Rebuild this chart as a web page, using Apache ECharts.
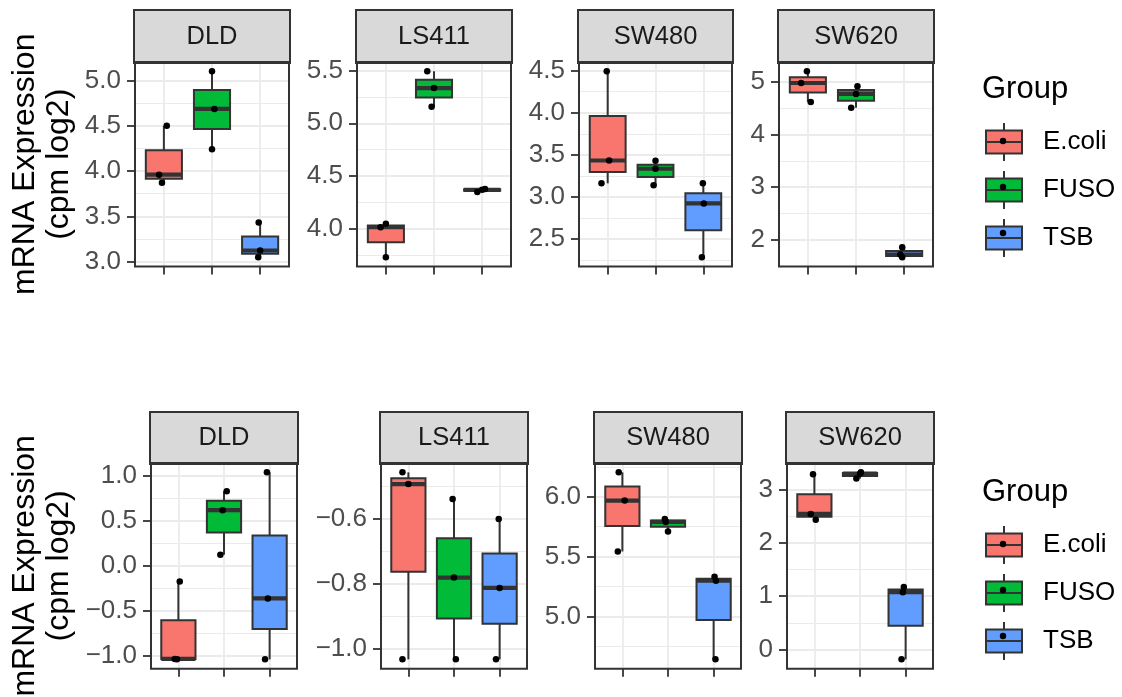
<!DOCTYPE html>
<html><head><meta charset="utf-8">
<script src="https://cdn.jsdelivr.net/npm/echarts@6/dist/echarts.min.js"></script>
<style>html,body{margin:0;padding:0;background:#fff}#c{width:1122px;height:697px}</style>
</head><body><div id="c"></div><script>
// ---------------- data ----------------
const groups = ['E.coli', 'FUSO', 'TSB'];
const panelNames = ['DLD', 'LS411', 'SW480', 'SW620'];
const yTitle = 'mRNA Expression\n(cpm log2)';
const legendTitle = 'Group';

// Replicate values per group, order [E.coli, FUSO, TSB] — top row
const topDLD   = [[4.50, 3.96, 3.87], [5.10, 4.685, 4.24], [3.432, 3.124, 3.05]];
const topLS411 = [[4.016, 4.047, 3.731], [5.493, 5.334, 5.156], [4.35, 4.37, 4.378]];
const topSW480 = [[4.492, 3.433, 3.162], [3.43, 3.335, 3.14], [3.162, 2.924, 2.285]];
const topSW620 = [[5.202, 4.98, 4.62], [4.918, 4.773, 4.508], [1.86, 1.72, 1.67]];
// bottom row
const botDLD   = [[-0.174, -1.03, -1.035], [0.826, 0.616, 0.122], [1.035, -0.361, -1.035]];
const botLS411 = [[-0.456, -0.492, -1.032], [-0.538, -0.78, -1.032], [-0.60, -0.812, -1.032]];
const botSW480 = [[6.205, 5.969, 5.543], [5.815, 5.79, 5.71], [5.332, 5.298, 4.64]];
const botSW620 = [[3.287, 2.544, 2.4375], [3.325, 3.30, 3.21], [1.175, 1.075, -0.185]];

// horizontal jitter of each replicate (category units), same order as values
const topDLDJit   = [[0.06, -0.10, -0.04], [0, 0.05, 0], [-0.03, 0, -0.04]];
const topLS411Jit = [[-0.11, 0, 0], [-0.14, 0, -0.05], [-0.10, 0, 0.06]];
const topSW480Jit = [[-0.02, 0.03, -0.13], [0, 0, -0.04], [-0.01, 0.01, -0.03]];
const topSW620Jit = [[-0.02, -0.14, 0.06], [0.03, 0, -0.10], [-0.04, -0.08, -0.04]];
const botDLDJit   = [[0.03, -0.08, -0.03], [0.06, -0.03, -0.08], [-0.06, -0.04, -0.10]];
const botLS411Jit = [[-0.13, 0, -0.13], [-0.03, 0, 0.04], [-0.02, 0, -0.08]];
const botSW480Jit = [[-0.08, 0.05, -0.10], [-0.07, -0.05, 0], [0.02, 0.05, 0.04]];
const botSW620Jit = [[-0.03, -0.08, 0.03], [0.02, 0, -0.08], [-0.04, -0.06, -0.09]];

// y tick labels per panel
const topDLDTicks   = [3.0, 3.5, 4.0, 4.5, 5.0];
const topLS411Ticks = [4.0, 4.5, 5.0, 5.5];
const topSW480Ticks = [2.5, 3.0, 3.5, 4.0, 4.5];
const topSW620Ticks = [2, 3, 4, 5];
const botDLDTicks   = [-1.0, -0.5, 0.0, 0.5, 1.0];
const botLS411Ticks = [-1.0, -0.8, -0.6];
const botSW480Ticks = [5.0, 5.5, 6.0];
const botSW620Ticks = [0, 1, 2, 3];

// ---------------- style / layout ----------------
const colors = ['#F8766D', '#00BA38', '#619CFF'];
const FONT = '"Liberation Sans", Arial, Helvetica, sans-serif';
const DARK = '#333333';
const rows = [
  { top: 62, height: 204.5, stripH: 51, lefts: [135, 357, 579, 779], widths: [154, 154, 153, 154],
    values: [topDLD, topLS411, topSW480, topSW620], jit: [topDLDJit, topLS411Jit, topSW480Jit, topSW620Jit],
    ticks: [topDLDTicks, topLS411Ticks, topSW480Ticks, topSW620Ticks], nameGap: 59,
    titleTop: 74, legendTop: 122 },
  { top: 463, height: 205.7, stripH: 50, lefts: [151, 381, 595, 787], widths: [146, 146, 146, 146],
    values: [botDLD, botLS411, botSW480, botSW620], jit: [botDLDJit, botLS411Jit, botSW480Jit, botSW620Jit],
    ticks: [botDLDTicks, botLS411Ticks, botSW480Ticks, botSW620Ticks], nameGap: 75,
    titleTop: 477, legendTop: 525 }
];

function q7(s, p) { const h = (s.length - 1) * p; const lo = Math.floor(h), hi = Math.ceil(h); return s[lo] + (h - lo) * (s[hi] - s[lo]); }
function boxStats(vals) {
  const s = vals.slice().sort((a, b) => a - b);
  const q1 = q7(s, 0.25), med = q7(s, 0.5), q3 = q7(s, 0.75), iqr = q3 - q1;
  const low = Math.min(...s.filter(v => v >= q1 - 1.5 * iqr));
  const high = Math.max(...s.filter(v => v <= q3 + 1.5 * iqr));
  return [low, q1, med, q3, high];
}

function renderBox(params, api) {
  const x = api.value(0), low = api.value(1), q1 = api.value(2), med = api.value(3), q3 = api.value(4), high = api.value(5);
  const hw = 0.375;
  const color = api.visual('color');
  const a = api.coord([x - hw, q3]), b = api.coord([x + hw, q1]);
  const c = api.coord([x, 0])[0];
  const yLow = api.coord([x, low])[1], yHigh = api.coord([x, high])[1], yMed = api.coord([x, med])[1];
  const ls = { stroke: DARK, lineWidth: 2 };
  return { type: 'group', children: [
    { type: 'line', shape: { x1: c, y1: a[1], x2: c, y2: yHigh }, style: ls },
    { type: 'line', shape: { x1: c, y1: b[1], x2: c, y2: yLow }, style: ls },
    { type: 'rect', shape: { x: a[0], y: a[1], width: b[0] - a[0], height: b[1] - a[1] }, style: { fill: color, stroke: DARK, lineWidth: 2 } },
    { type: 'line', shape: { x1: a[0], y1: yMed, x2: b[0], y2: yMed }, style: { stroke: DARK, lineWidth: 4.2 } }
  ]};
}

function fmtTick(step) {
  const d = step < 1 ? 1 : 0;
  return v => Number(v).toFixed(d).replace('-', '\u2212');
}

const grid = [], xAxis = [], yAxis = [], series = [], title = [], legend = [];
const boxIcon = 'path://M0,7.5L36,7.5L36,30.5L0,30.5Z M18,0L18,7.5 M18,30.5L18,38 M0,19L36,19';

rows.forEach((row, r) => {
  panelNames.forEach((pname, p) => {
    const gi = grid.length;
    grid.push({ left: row.lefts[p], top: row.top, width: row.widths[p], height: row.height,
      show: true, z: 10, backgroundColor: 'transparent', borderColor: DARK, borderWidth: 2,
      containLabel: false, outerBoundsMode: 'none' });
    const xi = xAxis.length;
    xAxis.push({ gridIndex: gi, type: 'value', min: -0.6, max: 2.6, minInterval: 1, maxInterval: 1,
      position: 'bottom',
      axisLine: { show: false, onZero: false },
      axisTick: { show: true, length: 8, customValues: [0, 1, 2], lineStyle: { color: DARK, width: 1.8 } },
      axisLabel: { show: false },
      splitLine: { show: true, lineStyle: { color: '#EBEBEB', width: 1.8 } } });
    xAxis.push({ gridIndex: gi, type: 'category', position: 'top', data: [pname],
      axisLine: { show: false, onZero: false }, axisTick: { show: false }, splitLine: { show: false },
      axisLabel: { show: true, interval: 0, margin: 0, fontSize: 25.5, color: '#1A1A1A', fontFamily: FONT,
        backgroundColor: '#D9D9D9', borderColor: DARK, borderWidth: 2, width: row.widths[p],
        lineHeight: row.stripH, align: 'center', verticalAlign: 'bottom', padding: 0 } });
    const ticks = row.ticks[p];
    const step = +(ticks[1] - ticks[0]).toFixed(6);
    const yi = yAxis.length;
    yAxis.push({ gridIndex: gi, type: 'value', position: 'left',
      min: e => e.min - 0.05 * (e.max - e.min), max: e => e.max + 0.05 * (e.max - e.min),
      minInterval: step, maxInterval: step,
      axisLine: { show: false, onZero: false },
      axisTick: { show: true, length: 8, customValues: ticks, lineStyle: { color: DARK, width: 1.8 } },
      axisLabel: { show: true, customValues: ticks, margin: 14, fontSize: 26, color: '#4D4D4D', fontFamily: FONT,
        formatter: fmtTick(step) },
      splitLine: { show: true, lineStyle: { color: '#EBEBEB', width: 1.8 } },
      minorTick: { show: false, splitNumber: 2 },
      minorSplitLine: { show: true, lineStyle: { color: '#EBEBEB', width: 1 } },
      name: p === 0 ? yTitle : '', nameLocation: 'middle', nameRotate: 90, nameGap: row.nameGap,
      nameMoveOverlap: false,
      nameTextStyle: { fontSize: 32, lineHeight: 34, color: '#000', fontFamily: FONT, align: 'center' } });
    const vals = row.values[p], jit = row.jit[p];
    groups.forEach((g, k) => {
      series.push({ type: 'custom', name: g, xAxisIndex: xi, yAxisIndex: yi, silent: true, z: 2,
        itemStyle: { color: colors[k] }, renderItem: renderBox,
        encode: { x: 0, y: [1, 2, 3, 4, 5] }, data: [[k].concat(boxStats(vals[k]))] });
    });
    series.push({ type: 'scatter', name: 'points', xAxisIndex: xi, yAxisIndex: yi, silent: true, z: 3,
      symbolSize: 6.5, itemStyle: { color: '#000', opacity: 1 },
      data: vals.flatMap((arr, k) => arr.map((v, j) => [k + jit[k][j], v])) });
  });

  title.push({ text: legendTitle, left: 982, top: row.titleTop, padding: 0,
    textStyle: { fontSize: 31, fontWeight: 'normal', color: '#000', fontFamily: FONT, lineHeight: 31 } });
  legend.push({ orient: 'vertical', left: 985, top: row.legendTop, padding: 0, itemGap: 8,
    itemWidth: 36, itemHeight: 38, selectedMode: false,
    formatter: n => '{sp|}' + n,
    textStyle: { fontSize: 26, color: '#000', fontFamily: FONT, lineHeight: 38,
      rich: { sp: { width: 16, fontSize: 26, lineHeight: 38 } } },
    data: groups.map((g, k) => ({ name: g, icon: boxIcon,
      itemStyle: { color: colors[k], borderColor: DARK, borderWidth: 2 } })) });
  legend.push({ orient: 'vertical', left: 999.8, top: row.legendTop, padding: 0, itemGap: 8,
    itemWidth: 6.4, itemHeight: 6.4, selectedMode: false,
    textStyle: { fontSize: 26, color: 'rgba(0,0,0,0)', fontFamily: FONT, lineHeight: 38 },
    data: groups.map(g => ({ name: g, icon: 'circle', itemStyle: { color: '#000', borderWidth: 0, opacity: 1 } })) });
});

const chart = echarts.init(document.getElementById('c'), null, { renderer: 'canvas' });
chart.setOption({ animation: false, backgroundColor: '#fff', textStyle: { fontFamily: FONT },
  grid, xAxis, yAxis, series, title, legend, tooltip: { show: false } });
</script></body></html>
